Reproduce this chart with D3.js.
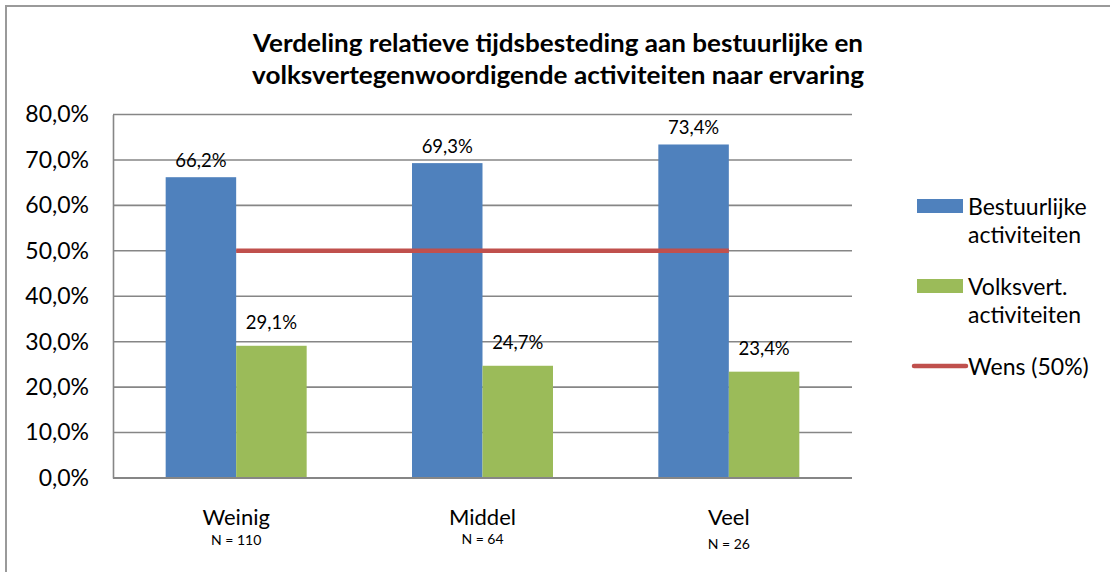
<!DOCTYPE html>
<html>
<head>
<meta charset="utf-8">
<script src="https://cdn.jsdelivr.net/npm/d3@7"></script>
<style>
  body { margin: 0; background: #fff; }
  svg { display: block; font-family: Lato, "Open Sans", sans-serif; }
</style>
</head>
<body>
<div id="chart"></div>
<script>
const width = 1110
const height = 572
const margin = { top: 114.5, bottom: 94, left: 113, right: 258 }

// Data
const categories = ["Weinig", "Middel", "Veel"]
const nLabels = ["N = 110", "N = 64", "N = 26"]
const seriesNames = ["Bestuurlijke activiteiten", "Volksvert. activiteiten"]
const bestuurlijk = [0.662, 0.693, 0.734]
const volksvert = [0.291, 0.247, 0.234]
const wens = [0.5, 0.5, 0.5]
const yTicks = [0, 0.1, 0.2, 0.3, 0.4, 0.5, 0.6, 0.7, 0.8]
const titleLines = [
  "Verdeling relatieve tijdsbesteding aan bestuurlijke en",
  "volksvertegenwoordigende activiteiten naar ervaring"
]

const colors = ["#4F81BD", "#9BBB59"]
const red = "#C0504D"
const grid = "#868686"

const nl = d3.formatLocale({ decimal: ",", thousands: ".", grouping: [3], currency: ["€", ""] })
const fmt = nl.format(".1%")

const svg = d3.select("#chart").append("svg")
  .attr("width", width).attr("height", height)

// rand om de grafiek
svg.append("path")
  .attr("d", `M6,${height} V6 H${width}`)
  .attr("fill", "none").attr("stroke", "#9a9a9a").attr("stroke-width", 2)

// Titel
svg.append("g").selectAll("text").data(titleLines).enter()
  .append("text")
    .attr("x", 558).attr("y", (d, i) => 52 + i * 32)
    .attr("text-anchor", "middle")
    .attr("font-size", 24).attr("font-weight", "bold")
    .attr("textLength", (d, i) => i == 0 ? 610 : 612)
    .attr("lengthAdjust", "spacingAndGlyphs")
    .text(d => d)

// Schalen
const x0 = d3.scaleBand().domain(categories).range([margin.left, width - margin.right])
const x1 = d3.scaleBand().domain(seriesNames)
  .range([x0.bandwidth() / 2 - 70.5, x0.bandwidth() / 2 + 70.5])
const y = d3.scaleLinear().domain([0, 0.8]).range([height - margin.bottom, margin.top])

// Gridlijnen
svg.append("g").selectAll("line").data(yTicks.slice(1)).enter()
  .append("line")
    .attr("x1", margin.left).attr("x2", width - margin.right)
    .attr("y1", d => y(d)).attr("y2", d => y(d))
    .attr("stroke", grid).attr("stroke-width", 1.6)

// Y-as
const yAxis = d3.axisLeft(y).tickValues(yTicks).tickFormat(fmt).tickSize(0).tickPadding(24)
const yAxisGroup = svg.append("g").attr("transform", `translate(${margin.left},0)`).call(yAxis)
yAxisGroup.select(".domain").attr("stroke", grid).attr("stroke-width", 1.6)
yAxisGroup.selectAll("text").attr("font-size", 23).attr("fill", "#000")
  .attr("font-family", "Lato, sans-serif")

// Staven
const values = [bestuurlijk, volksvert]
const labelGap = [10, 17]
values.forEach((vals, s) => {
  const g = svg.append("g")
  g.selectAll("rect").data(vals).enter()
    .append("rect")
      .attr("x", (d, i) => x0(categories[i]) + x1(seriesNames[s]))
      .attr("width", x1.bandwidth())
      .attr("y", d => y(d))
      .attr("height", d => y(0) - y(d))
      .attr("fill", colors[s])
  g.selectAll("text").data(vals).enter()
    .append("text")
      .attr("x", (d, i) => x0(categories[i]) + x1(seriesNames[s]) + x1.bandwidth() / 2)
      .attr("y", d => y(d) - labelGap[s])
      .attr("text-anchor", "middle")
      .attr("font-size", 18.5)
      .text(d => fmt(d))
})

// X-as lijn
svg.append("line")
  .attr("x1", margin.left).attr("x2", width - margin.right)
  .attr("y1", y(0)).attr("y2", y(0))
  .attr("stroke", grid).attr("stroke-width", 1.8)

// Wens lijn
const line = d3.line()
  .x((d, i) => x0(categories[i]) + x0.bandwidth() / 2)
  .y(d => y(d))
svg.append("path").datum(wens)
  .attr("d", line)
  .attr("fill", "none").attr("stroke", red).attr("stroke-width", 4.5)

// Categorie labels
const nY = [545, 544, 549]
const cat = svg.append("g").selectAll("g").data(categories).enter().append("g")
  .attr("transform", d => `translate(${x0(d) + x0.bandwidth() / 2},0)`)
cat.append("text")
  .attr("y", 525).attr("text-anchor", "middle").attr("font-size", 22)
  .text(d => d)
cat.append("text")
  .attr("y", (d, i) => nY[i]).attr("text-anchor", "middle").attr("font-size", 14)
  .text((d, i) => nLabels[i])

// Legenda
const legend = svg.append("g").attr("transform", "translate(917,0)")
const legendRows = [
  { lines: ["Bestuurlijke", "activiteiten"], color: colors[0], type: "rect", y: 199 },
  { lines: ["Volksvert.", "activiteiten"], color: colors[1], type: "rect", y: 279 },
  { lines: ["Wens (50%)"], color: red, type: "line", y: 359 }
]
legendRows.forEach(r => {
  if (r.type == "rect") {
    legend.append("rect").attr("x", 0).attr("y", r.y).attr("width", 46).attr("height", 14).attr("fill", r.color)
  } else {
    legend.append("line").attr("x1", -3).attr("x2", 49).attr("y1", r.y + 7).attr("y2", r.y + 7)
      .attr("stroke", r.color).attr("stroke-width", 4.5).attr("stroke-linecap", "round")
  }
  legend.append("g").selectAll("text").data(r.lines).enter()
    .append("text")
      .attr("x", 51).attr("y", (d, i) => r.y + 16 + i * 28)
      .attr("font-size", 23)
      .text(d => d)
})
</script>
</body>
</html>
